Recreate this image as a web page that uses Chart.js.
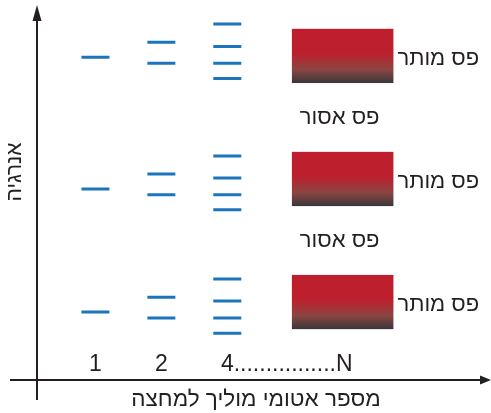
<!DOCTYPE html>
<html>
<head>
<meta charset="utf-8">
<script src="https://cdn.jsdelivr.net/npm/chart.js@4"></script>
<style>
html,body{margin:0;padding:0;background:#fff;}
#wrap{width:491px;height:413px;position:relative;}
</style>
</head>
<body>
<div id="wrap"><canvas id="c"></canvas></div>
<script>
// ---- data ----
const categories = ['1', '2', '4', 'N'];          // number of atoms
const slots = [1, 2, 3, 4.75];                    // x-slot of each category
const levels1 = [86.3, 51.1, 18.2];               // energy levels, 1 atom
const levels2 = [90.3, 84.7, 55.1, 49.5, 22.1, 16.6];
const levels4 = [95.2, 89.2, 84.7, 80.6, 59.9, 54.0, 49.5, 45.5, 27.0, 21.1, 16.6, 12.5];
const bandLow  = [79.4, 46.5, 13.6];              // allowed bands, N atoms
const bandHigh = [93.9, 61.0, 28.1];
const allowedLabel = 'פס מותר';
const forbiddenLabel = 'פס אסור';
const xTitle = 'מספר אטומי מוליך למחצה';
const yTitle = 'אנרגיה';
const dots = '................';

const FONT = '"Liberation Sans", Arial, sans-serif';
const TXT = '#231f20';
const BLUE = '#1b75bc';

function pts(levels, slot) { return levels.map(v => ({x: slot, y: v})); }

const decor = {
  id: 'decor',
  afterDatasetsDraw(chart) {
    const {ctx, chartArea, scales} = chart;
    const xs = scales.x, ys = scales.y;
    ctx.save();
    // bands
    const half = 0.77;
    for (let i = 0; i < bandLow.length; i++) {
      const l = xs.getPixelForValue(slots[3] - half);
      const r = xs.getPixelForValue(slots[3] + half);
      const t = ys.getPixelForValue(bandHigh[i]);
      const b = ys.getPixelForValue(bandLow[i]);
      const g = ctx.createLinearGradient(0, t, 0, b);
      g.addColorStop(0, '#be1e2d');
      g.addColorStop(0.45, '#bd1f2d');
      g.addColorStop(0.75, '#8c4541');
      g.addColorStop(1, '#39363a');
      ctx.fillStyle = g;
      ctx.fillRect(l, t, r - l, b - t);
      ctx.fillStyle = TXT;
      ctx.font = '22px ' + FONT;
      ctx.textAlign = 'left';
      ctx.textBaseline = 'middle';
      ctx.fillText(allowedLabel, r + 4, (t + b) / 2 + 3);
      if (i < bandLow.length - 1) {
        const nt = ys.getPixelForValue(bandHigh[i + 1]);
        ctx.textAlign = 'center';
        ctx.fillText(forbiddenLabel, (l + r) / 2 - 3, (b + nt) / 2);
      }
    }
    // tick labels
    ctx.fillStyle = TXT;
    ctx.font = '23px ' + FONT;
    ctx.textBaseline = 'alphabetic';
    ctx.textAlign = 'center';
    const by = chartArea.bottom - 9.5;
    ctx.fillText(categories[0], xs.getPixelForValue(slots[0]), by);
    ctx.fillText(categories[1], xs.getPixelForValue(slots[1]), by);
    const w4 = ctx.measureText(categories[2]).width;
    ctx.textAlign = 'left';
    ctx.fillText(categories[2] + dots + categories[3], xs.getPixelForValue(slots[2]) - w4 / 2, by);
    // axes
    const ax = chartArea.left + 7.5, ay = chartArea.bottom;
    ctx.strokeStyle = TXT; ctx.fillStyle = TXT; ctx.lineWidth = 2;
    ctx.beginPath();
    ctx.moveTo(10, ay); ctx.lineTo(482, ay);
    ctx.moveTo(ax, 400); ctx.lineTo(ax, 18);
    ctx.stroke();
    ctx.beginPath();
    ctx.moveTo(491, ay); ctx.lineTo(480, ay - 4.5); ctx.lineTo(480, ay + 4.5); ctx.closePath(); ctx.fill();
    ctx.beginPath();
    ctx.moveTo(ax, 5); ctx.lineTo(ax - 4.5, 21); ctx.lineTo(ax + 4.5, 21); ctx.closePath(); ctx.fill();
    // titles
    ctx.font = '22.5px ' + FONT;
    ctx.textAlign = 'center';
    ctx.textBaseline = 'middle';
    ctx.fillText(xTitle, 256, 400);
    ctx.font = '21px ' + FONT;
    ctx.save();
    ctx.translate(15, 172);
    ctx.rotate(-Math.PI / 2);
    ctx.fillText(yTitle, 0, 0);
    ctx.restore();
    ctx.restore();
  }
};

const ds = (levels, slot) => ({
  data: pts(levels, slot),
  pointStyle: 'line',
  radius: 14, hoverRadius: 14,
  borderColor: BLUE, backgroundColor: BLUE,
  borderWidth: 3, hoverBorderWidth: 3,
  showLine: false
});

new Chart(document.getElementById('c'), {
  type: 'scatter',
  data: { datasets: [ds(levels1, slots[0]), ds(levels2, slots[1]), ds(levels4, slots[2])] },
  options: {
    responsive: true, maintainAspectRatio: false, animation: false,
    layout: { autoPadding: false, padding: { left: 29.5, top: 6, right: 0, bottom: 33 } },
    scales: {
      x: { type: 'linear', min: 0, max: 7, display: false },
      y: { type: 'linear', min: 0, max: 100, display: false }
    },
    plugins: { legend: { display: false }, tooltip: { enabled: false } },
    events: []
  },
  plugins: [decor]
});
</script>
</body>
</html>
